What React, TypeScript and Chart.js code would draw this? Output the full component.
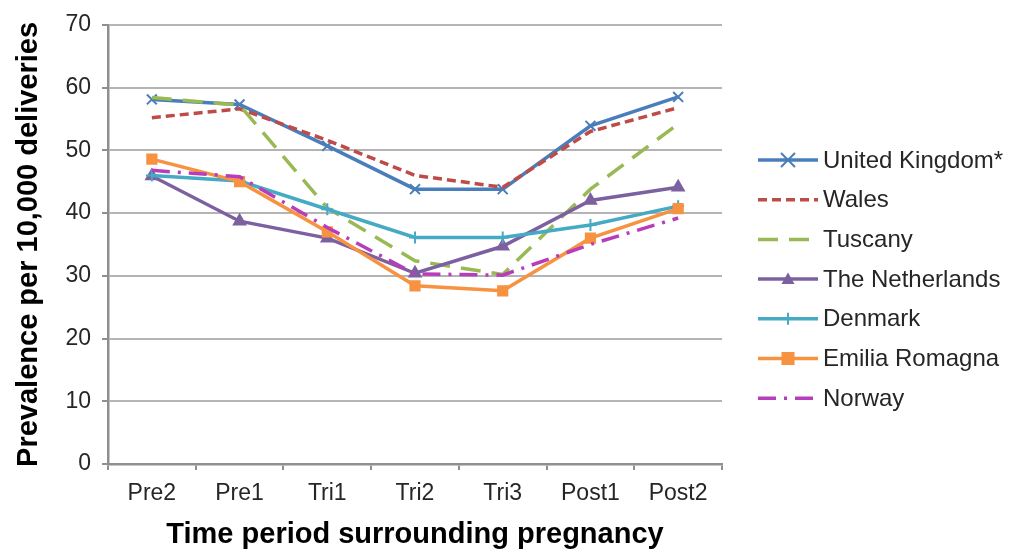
import React, { useEffect, useRef } from "react";
import { Chart, registerables } from "chart.js";

Chart.register(...registerables);

const categories = ["Pre2", "Pre1", "Tri1", "Tri2", "Tri3", "Post1", "Post2"];
const seriesNames = [
  "United Kingdom*",
  "Wales",
  "Tuscany",
  "The Netherlands",
  "Denmark",
  "Emilia Romagna",
  "Norway",
];
const ukValues = [58.1, 57.3, 50.7, 43.8, 43.8, 53.9, 58.5];
const walesValues = [55.2, 56.6, 51.6, 46.0, 44.1, 53.0, 56.8];
const tuscanyValues = [58.4, 57.2, 40.8, 32.4, 30.2, 43.8, 54.2];
const netherlandsValues = [45.9, 38.7, 36.0, 30.4, 34.7, 42.0, 44.1];
const denmarkValues = [46.0, 45.1, 40.6, 36.1, 36.1, 38.1, 41.1];
const emiliaValues = [48.6, 45.0, 37.0, 28.4, 27.6, 36.0, 40.7];
const norwayValues = [46.8, 45.8, 37.7, 30.3, 30.1, 35.0, 39.2];
const yTickValues = [0, 10, 20, 30, 40, 50, 60, 70];

const styles = [
  { color: "#4A7EBB", dash: [], marker: "crossRot", radius: 7 },
  { color: "#BE4B48", dash: [9, 5], marker: "none", radius: 0 },
  { color: "#98B954", dash: [20, 11], marker: "none", radius: 0 },
  { color: "#7D60A0", dash: [], marker: "triangle", radius: 6.5 },
  { color: "#46AAC5", dash: [], marker: "cross", radius: 6 },
  { color: "#F69240", dash: [], marker: "rect", radius: 6.5 },
  { color: "#B83DBA", dash: [18, 8, 3, 8], marker: "none", radius: 0 },
];

const allValues = [
  ukValues,
  walesValues,
  tuscanyValues,
  netherlandsValues,
  denmarkValues,
  emiliaValues,
  norwayValues,
];

function drawMarker(ctx: CanvasRenderingContext2D, style: string, x: number, y: number, r: number, color: string) {
  if (style === "none") return;
  ctx.save();
  ctx.strokeStyle = color;
  ctx.fillStyle = color;
  ctx.lineWidth = 2;
  ctx.setLineDash([]);
  ctx.beginPath();
  if (style === "crossRot") {
    ctx.moveTo(x - r, y - r);
    ctx.lineTo(x + r, y + r);
    ctx.moveTo(x + r, y - r);
    ctx.lineTo(x - r, y + r);
    ctx.stroke();
  } else if (style === "cross") {
    ctx.moveTo(x, y - r);
    ctx.lineTo(x, y + r);
    ctx.moveTo(x - r, y);
    ctx.lineTo(x + r, y);
    ctx.stroke();
  } else if (style === "triangle") {
    ctx.moveTo(x, y - r);
    ctx.lineTo(x + r, y + r * 0.75);
    ctx.lineTo(x - r, y + r * 0.75);
    ctx.closePath();
    ctx.fill();
  } else if (style === "rect") {
    ctx.fillRect(x - r, y - r, 2 * r, 2 * r);
  }
  ctx.restore();
}

const legendPlugin = {
  id: "customLegend",
  afterDraw(chart: any) {
    const ctx: CanvasRenderingContext2D = chart.ctx;
    seriesNames.forEach((name, i) => {
      const st = styles[i];
      const y = 160 + i * 39.7;
      ctx.save();
      ctx.strokeStyle = st.color;
      ctx.lineWidth = 3.5;
      ctx.setLineDash(st.dash);
      ctx.beginPath();
      ctx.moveTo(758, y);
      ctx.lineTo(818, y);
      ctx.stroke();
      ctx.restore();
      drawMarker(ctx, st.marker, 788, y, st.radius, st.color);
      ctx.save();
      ctx.fillStyle = "#262626";
      ctx.font = '24px "Liberation Sans", Arial, sans-serif';
      ctx.textBaseline = "middle";
      ctx.textAlign = "left";
      ctx.fillText(name, 823, y + 1);
      ctx.restore();
    });
  },
};

export default function App() {
  const canvasRef = useRef<HTMLCanvasElement | null>(null);

  useEffect(() => {
    if (!canvasRef.current) return;
    const datasets = seriesNames.map((name, i) => {
      const st = styles[i];
      return {
        label: name,
        data: allValues[i],
        borderColor: st.color,
        backgroundColor: st.color,
        borderWidth: 3.5,
        borderDash: st.dash,
        pointStyle: st.marker === "none" ? false : st.marker,
        pointRadius: st.radius,
        pointBorderWidth: 2,
        pointBorderColor: st.color,
        pointBackgroundColor: st.color,
        tension: 0,
        fill: false,
        order: 6 - i,
      };
    });

    const chart = new Chart(canvasRef.current, {
      type: "line",
      data: { labels: categories, datasets: datasets as any },
      options: {
        responsive: false,
        animation: false,
        devicePixelRatio: 1,
        layout: { padding: { left: 0, top: 18, right: 288, bottom: 0 } },
        plugins: {
          legend: { display: false },
          tooltip: { enabled: false },
        },
        scales: {
          x: {
            offset: true,
            grid: {
              offset: true,
              drawOnChartArea: false,
              drawTicks: true,
              tickLength: 6,
              color: "#8f8f8f",
              lineWidth: 2,
            },
            border: { color: "#8f8f8f", width: 2.5 },
            ticks: {
              color: "#262626",
              padding: 10,
              font: { family: '"Liberation Sans", Arial, sans-serif', size: 23 },
              maxRotation: 0,
              autoSkip: false,
            },
            title: {
              display: true,
              text: "Time period surrounding pregnancy",
              color: "#000000",
              font: { family: '"Liberation Sans", Arial, sans-serif', size: 29, weight: "bold" },
              padding: { top: 0, bottom: 0 },
            },
            afterFit: (scale: any) => {
              scale.height = 88;
            },
          },
          y: {
            min: 0,
            max: 70,
            afterBuildTicks: (scale: any) => {
              scale.ticks = yTickValues.map((v) => ({ value: v }));
            },
            grid: {
              color: "#b4b4b4",
              lineWidth: 2,
              drawTicks: true,
              tickLength: 6,
              tickColor: "#8f8f8f",
            },
            border: { color: "#8f8f8f", width: 2.5 },
            ticks: {
              color: "#262626",
              padding: 11,
              font: { family: '"Liberation Sans", Arial, sans-serif', size: 23 },
            },
            title: {
              display: true,
              text: "Prevalence per 10,000 deliveries",
              color: "#000000",
              font: { family: '"Liberation Sans", Arial, sans-serif', size: 29, weight: "bold" },
              padding: { top: 12, bottom: 0 },
            },
            afterFit: (scale: any) => {
              scale.width = 108;
            },
          },
        },
      },
      plugins: [legendPlugin],
    });
    return () => chart.destroy();
  }, []);

  return (
    <div style={{ position: "fixed", left: 0, top: 0, width: 1010, height: 552, background: "#ffffff" }}>
      <canvas ref={canvasRef} width={1010} height={552} style={{ display: "block" }} />
    </div>
  );
}
